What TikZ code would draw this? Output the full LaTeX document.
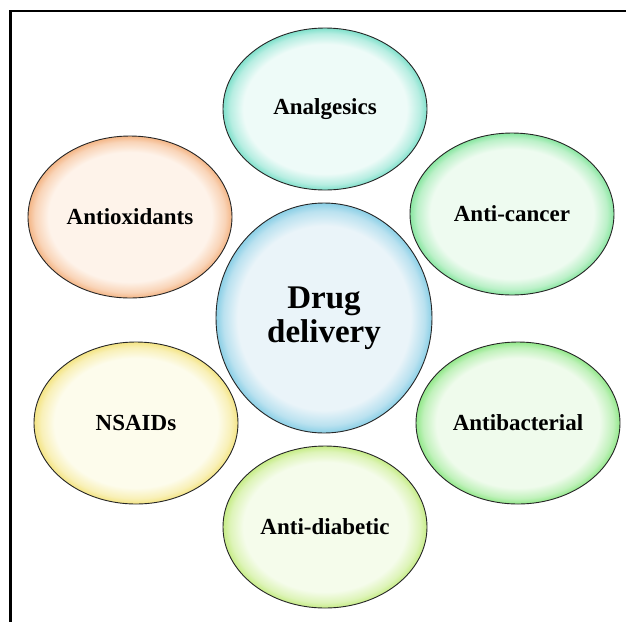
\documentclass[tikz,border=0pt]{standalone}
\usepackage{fontspec}
\setmainfont{Liberation Serif}
\usetikzlibrary{shapes.geometric}
\newcommand\mkshade[3]{%
  \colorlet{#1p}{#2}\colorlet{#1r}{#3}\colorlet{#1m}{#3!50!#2}%
  \pgfdeclareradialshading{#1}{\pgfpointorigin}{color(0bp)=(#1p);color(20bp)=(#1p);color(23.3bp)=(#1m);color(25bp)=(#1r);color(50bp)=(#1r)}}
\definecolor{paleA}{HTML}{EEFBF8}\definecolor{rimA}{HTML}{7FE0CB}
\definecolor{paleB}{HTML}{EEFBF0}\definecolor{rimB}{HTML}{88E6A0}
\definecolor{paleC}{HTML}{EFFBEC}\definecolor{rimC}{HTML}{92E88A}
\definecolor{paleD}{HTML}{F5FCEB}\definecolor{rimD}{HTML}{C6EC86}
\definecolor{paleE}{HTML}{FDFCEC}\definecolor{rimE}{HTML}{F4E483}
\definecolor{paleF}{HTML}{FEF3EA}\definecolor{rimF}{HTML}{F4B585}
\definecolor{paleG}{HTML}{EAF4F9}\definecolor{rimG}{HTML}{8ACFE6}
\mkshade{shA}{paleA}{rimA}
\mkshade{shB}{paleB}{rimB}
\mkshade{shC}{paleC}{rimC}
\mkshade{shD}{paleD}{rimD}
\mkshade{shE}{paleE}{rimE}
\mkshade{shF}{paleF}{rimF}
\mkshade{shG}{paleG}{rimG}
\tikzset{
  bubble/.style={ellipse, draw=black!85, line width=0.9pt, inner sep=0pt,
    minimum width=204pt, minimum height=162pt, align=center,
    font=\fontsize{23}{26}\selectfont\bfseries},
  hub/.style={bubble, minimum width=216pt, minimum height=230pt,
    font=\fontsize{33}{34}\selectfont\bfseries},
  frame/.style={line width=2.4pt}
}
\begin{document}
\begin{tikzpicture}[x=1pt,y=-1pt]
\useasboundingbox[fill=white] (0,0) rectangle (626,622);
\draw[frame] (626,11) -- (10.5,11) -- (10.5,622);
\node[bubble, shading=shA] (analg) at (325,109) {Analgesics};
\node[bubble, shading=shB] (cancer) at (512,214) {Anti-cancer};
\node[bubble, shading=shC] (bact) at (518,423) {Antibacterial};
\node[bubble, shading=shD] (diab) at (325,527) {Anti-diabetic};
\node[bubble, shading=shE] (nsaid) at (136,423) {NSAIDs};
\node[bubble, shading=shF] (antiox) at (130,217) {Antioxidants};
\node[hub, shading=shG] (drug) at (324,318) {Drug\\delivery};
\end{tikzpicture}
\end{document}
